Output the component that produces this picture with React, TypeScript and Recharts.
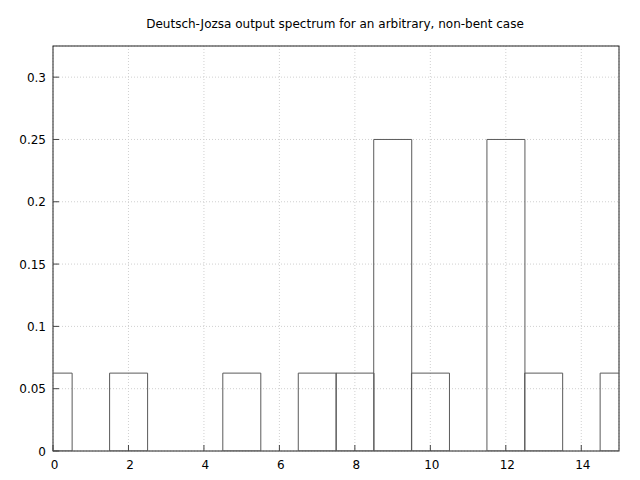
import React from 'react';
import * as RC from 'recharts';
import { ComposedChart, Bar, XAxis, YAxis, CartesianGrid } from 'recharts';

const states = [0, 1, 2, 3, 4, 5, 6, 7, 8, 9, 10, 11, 12, 13, 14, 15];
const probabilities = [0.0625, 0, 0.0625, 0, 0, 0.0625, 0, 0.0625, 0.0625, 0.25, 0.0625, 0, 0.25, 0.0625, 0, 0.0625];
const xTicks = [0, 2, 4, 6, 8, 10, 12, 14];
const yTicks = [0, 0.05, 0.1, 0.15, 0.2, 0.25, 0.3];
const title = 'Deutsch-Jozsa output spectrum for an arbitrary, non-bent case';

const data = states.map((s, i) => ({ state: s, p: probabilities[i] }));

const FONT = 'DejaVu Sans, sans-serif';
const TICK_LEN = 6;
const MARGIN = 8;

const BottomTick = (props: any) => {
  const { x, y, payload } = props;
  const axisY = y - MARGIN;
  return (
    <g>
      <line x1={x} x2={x} y1={axisY} y2={axisY - TICK_LEN} stroke="#444" strokeWidth={1} />
      <text x={x + 1.5} y={axisY + 18} textAnchor="middle" fontFamily={FONT} fontSize={12} fill="#000">
        {payload.value}
      </text>
    </g>
  );
};

const TopTick = (props: any) => {
  const { x, y } = props;
  const axisY = y + MARGIN;
  return <line x1={x} x2={x} y1={axisY} y2={axisY + TICK_LEN} stroke="#444" strokeWidth={1} />;
};

const LeftTick = (props: any) => {
  const { x, y, payload } = props;
  const axisX = x + MARGIN;
  return (
    <g>
      <line x1={axisX} x2={axisX + TICK_LEN} y1={y} y2={y} stroke="#444" strokeWidth={1} />
      <text x={axisX - 7} y={y + 4.5} textAnchor="end" fontFamily={FONT} fontSize={12} fill="#000">
        {payload.value}
      </text>
    </g>
  );
};

const RightTick = (props: any) => {
  const { x, y } = props;
  const axisX = x - MARGIN;
  return <line x1={axisX} x2={axisX - TICK_LEN} y1={y} y2={y} stroke="#444" strokeWidth={1} />;
};

const Frame = () => {
  const hook: any = (RC as any).usePlotArea || (RC as any).useOffset;
  const area = hook ? hook() : null;
  const a = area && area.width != null ? area : { x: 53, y: 46, width: 566, height: 405 };
  const left = a.x != null ? a.x : a.left;
  const top = a.y != null ? a.y : a.top;
  return <rect x={left} y={top} width={a.width} height={a.height} fill="none" stroke="#222" strokeWidth={1} />;
};

export default function App() {
  return (
    <div style={{ position: 'absolute', left: 0, top: 0, width: 640, height: 480, background: '#fff' }}>
      <ComposedChart
        width={640}
        height={480}
        data={data}
        margin={{ top: 46, right: 21, bottom: 0, left: 0 }}
        barCategoryGap={0}
        barGap={0}
      >
        <text x={335} y={28} textAnchor="middle" fontFamily={FONT} fontSize={12} fill="#000">
          {title}
        </text>
        <CartesianGrid xAxisId="b" yAxisId="l" stroke="#d0d0d0" strokeDasharray="1 2" />
        <XAxis
          xAxisId="b"
          dataKey="state"
          type="number"
          domain={[0, 15]}
          ticks={xTicks}
          allowDataOverflow
          height={29}
          tickSize={0}
          tickMargin={MARGIN}
          tickLine={false}
          axisLine={false}
          tick={<BottomTick />}
          interval={0}
        />
        <XAxis
          xAxisId="t"
          dataKey="state"
          type="number"
          orientation="top"
          domain={[0, 15]}
          ticks={xTicks}
          allowDataOverflow
          height={0}
          tickSize={0}
          tickMargin={MARGIN}
          tickLine={false}
          axisLine={false}
          tick={<TopTick />}
          interval={0}
        />
        <YAxis
          yAxisId="l"
          type="number"
          domain={[0, 0.325]}
          ticks={yTicks}
          allowDataOverflow
          width={53}
          tickSize={0}
          tickMargin={MARGIN}
          tickLine={false}
          axisLine={false}
          tick={<LeftTick />}
          interval={0}
        />
        <YAxis
          yAxisId="r"
          type="number"
          orientation="right"
          domain={[0, 0.325]}
          ticks={yTicks}
          allowDataOverflow
          width={0}
          tickSize={0}
          tickMargin={MARGIN}
          tickLine={false}
          axisLine={false}
          tick={<RightTick />}
          interval={0}
        />
        <Bar
          xAxisId="b"
          yAxisId="l"
          dataKey="p"
          fill="none"
          stroke="#5a5a5a"
          strokeWidth={1}
          isAnimationActive={false}
        />
        <Frame />
      </ComposedChart>
    </div>
  );
}
